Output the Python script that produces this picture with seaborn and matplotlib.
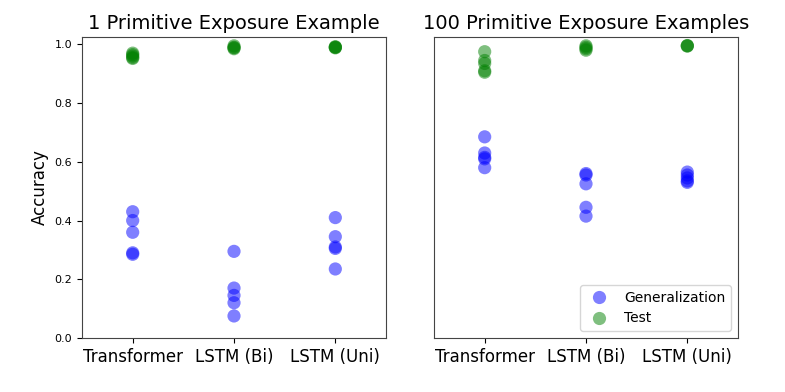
import pandas as pd
import matplotlib
matplotlib.use("Agg")
import matplotlib.pyplot as plt
import seaborn as sns

models = ["Transformer", "LSTM (Bi)", "LSTM (Uni)"]

# 1 primitive exposure example
gen_1 = {
    "Transformer": [0.43, 0.40, 0.36, 0.29, 0.285],
    "LSTM (Bi)": [0.295, 0.17, 0.145, 0.12, 0.075],
    "LSTM (Uni)": [0.41, 0.345, 0.31, 0.305, 0.235],
}
test_1 = {
    "Transformer": [0.97, 0.965, 0.96, 0.955, 0.952],
    "LSTM (Bi)": [0.995, 0.99, 0.988, 0.985],
    "LSTM (Uni)": [0.992, 0.99, 0.99, 0.988],
}

# 100 primitive exposure examples
gen_100 = {
    "Transformer": [0.685, 0.63, 0.615, 0.61, 0.58],
    "LSTM (Bi)": [0.56, 0.555, 0.525, 0.445, 0.415],
    "LSTM (Uni)": [0.565, 0.555, 0.545, 0.535, 0.53],
}
test_100 = {
    "Transformer": [0.975, 0.945, 0.935, 0.91, 0.905],
    "LSTM (Bi)": [0.995, 0.99, 0.985, 0.98],
    "LSTM (Uni)": [0.996, 0.995, 0.994],
}


def to_frame(gen, test):
    rows = []
    for m in models:
        for v in gen[m]:
            rows.append({"model": m, "acc": v, "split": "Generalization"})
        for v in test[m]:
            rows.append({"model": m, "acc": v, "split": "Test"})
    return pd.DataFrame(rows)


fig = plt.figure(figsize=(7.85, 3.92), dpi=100)
ax1 = fig.add_axes([0.1045, 0.1378, 0.3872, 0.7678])
ax2 = fig.add_axes([0.5529, 0.1378, 0.3872, 0.7678])

palette = {"Generalization": "blue", "Test": "green"}

for ax, gen, test, title in [
    (ax1, gen_1, test_1, "1 Primitive Exposure Example"),
    (ax2, gen_100, test_100, "100 Primitive Exposure Examples"),
]:
    df = to_frame(gen, test)
    sns.stripplot(data=df, x="model", y="acc", hue="split", order=models,
                  hue_order=["Generalization", "Test"], palette=palette,
                  jitter=False, size=9.5, alpha=0.5, linewidth=0, ax=ax)
    ax.set_ylim(0, 1.025)
    ax.set_xlim(-0.5, 2.5)
    ax.set_title(title, fontsize=14)
    ax.set_xlabel("")
    ax.tick_params(axis="x", labelsize=12)
    ax.tick_params(axis="y", labelsize=8)
    for s in ax.spines.values():
        s.set_color("#444444")

ax1.set_ylabel("Accuracy", fontsize=12)
ax1.legend_.remove()
ax2.set_ylabel("")
ax2.set_yticks([])
ax2.legend(loc="lower right", fontsize=10)

fig.savefig("out.png", dpi=100)
